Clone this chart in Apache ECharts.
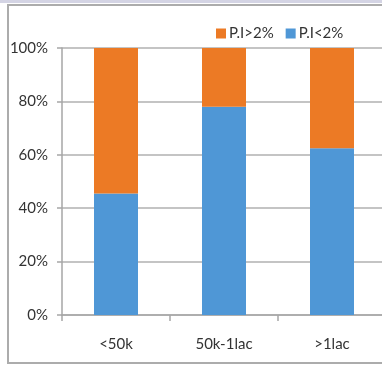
<!DOCTYPE html>
<html><head><meta charset="utf-8">
<script src="https://cdn.jsdelivr.net/npm/echarts@6/dist/echarts.min.js"></script>
<style>
html,body{margin:0;padding:0;background:#fff;overflow:hidden;width:382px;height:367px;}
#strip{position:absolute;left:0;top:0;width:382px;height:3px;background:#d4d4e4;}
#frame{position:absolute;left:7px;top:4px;width:400px;height:356px;border-top:2px solid #acacac;border-left:2px solid #acacac;border-bottom:2px solid #acacac;}
#c{position:absolute;left:0;top:0;width:382px;height:367px;}
</style>
</head><body><div id="strip"></div><div id="frame"></div><div id="c"></div>
<script>
const categories = ['<50k', '50k-1lac', '>1lac'];
const below2 = [45.5, 78, 62.5];
const above2 = [54.5, 22, 37.5];
const yTicks = [0, 20, 40, 60, 80, 100];

const chart = echarts.init(document.getElementById('c'));
const font = 'Lato';
chart.setOption({
  animation: false,
  backgroundColor: 'transparent',
  textStyle: { fontFamily: font },
  legend: {
    left: 211, top: 21, itemWidth: 10, itemHeight: 10, itemGap: 12, icon: 'rect',
    data: ['P.I>2%', 'P.I<2%'],
    textStyle: { fontFamily: font, fontSize: 15, color: '#333', padding: [0, 0, 0, -2] }
  },
  grid: { left: 62, top: 48, width: 324, bottom: 52, containLabel: false, outerBoundsMode: 'none' },
  xAxis: {
    type: 'category', data: categories, boundaryGap: true,
    axisLine: { lineStyle: { color: '#a6a6a6', width: 1.5 } },
    axisTick: { show: true, length: 6, lineStyle: { color: '#a6a6a6', width: 1.5 } },
    axisLabel: { fontFamily: font, fontSize: 15, color: '#333', margin: 22 }
  },
  yAxis: {
    type: 'value', min: 0, max: 100, interval: 20,
    axisLine: { show: true, lineStyle: { color: '#a6a6a6', width: 1.5 } },
    axisTick: { show: true, length: 5, lineStyle: { color: '#a6a6a6', width: 1.5 } },
    splitLine: { lineStyle: { color: '#b0b0b0', width: 1.5 } },
    axisLabel: { fontFamily: font, fontSize: 15, color: '#333', margin: 14,
      formatter: v => yTicks.includes(v) ? v + '%' : '' }
  },
  series: [
    { name: 'P.I<2%', type: 'bar', stack: 'a', data: below2, barWidth: 44, itemStyle: { color: '#4f97d6' } },
    { name: 'P.I>2%', type: 'bar', stack: 'a', data: above2, barWidth: 44, itemStyle: { color: '#ec7a25' } }
  ]
});
</script></body></html>
